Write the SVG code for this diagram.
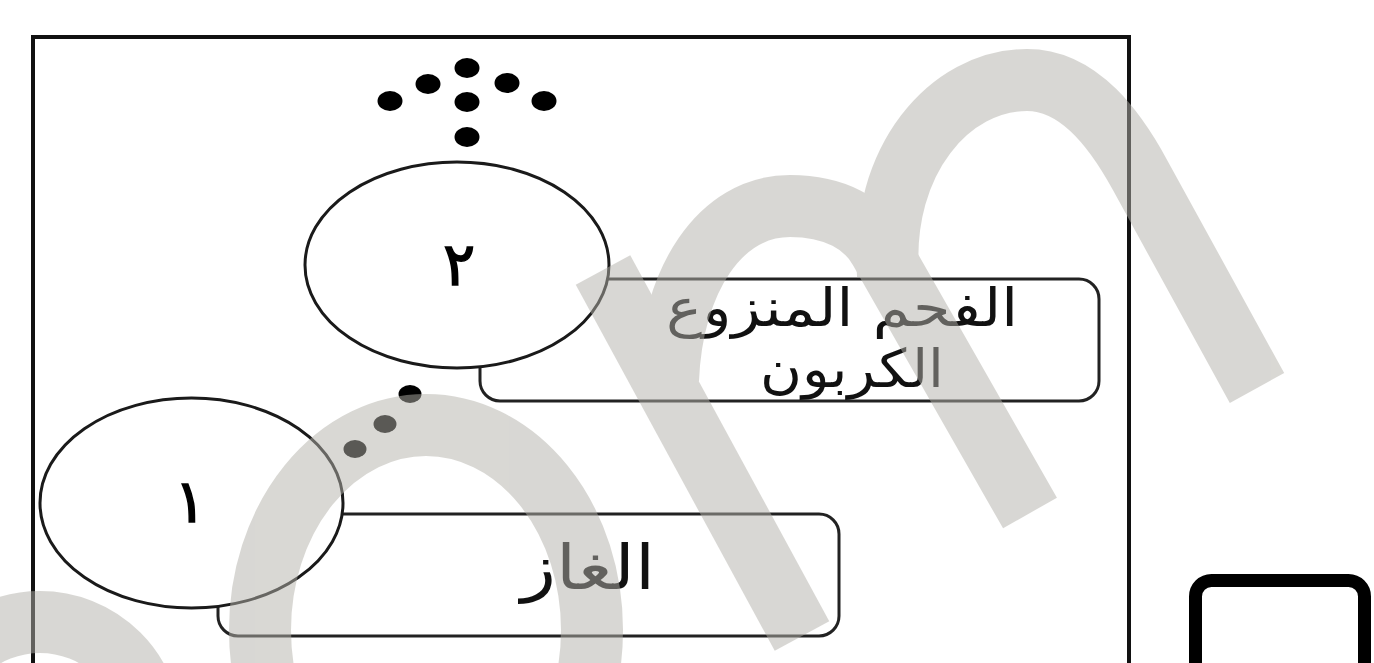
<svg xmlns="http://www.w3.org/2000/svg" width="1374" height="663" viewBox="0 0 1374 663">
<style>
  .frame{fill:none;stroke:#111;stroke-width:4}
  .box{fill:#fff;stroke:#222;stroke-width:3}
  .oval{fill:#fff;stroke:#1a1a1a;stroke-width:3}
  .dot{fill:#000}
  .num{font-family:"DejaVu Sans",sans-serif;fill:#000;stroke:#000;stroke-width:1.5;text-anchor:middle}
  .lbl{font-family:"DejaVu Sans",sans-serif;fill:#111;text-anchor:middle}
  .wm{fill:none;stroke:#b3b1aa;stroke-width:62}
</style>
<rect width="1374" height="663" fill="#fff"/>
<g id="frame"><rect class="frame" x="33" y="37" width="1096" height="660"/></g>
<g id="node-box2"><rect class="box" x="480" y="279" width="619" height="122" rx="20"/>
  <text class="lbl" x="842" y="326" font-size="53" direction="rtl" textLength="352" lengthAdjust="spacingAndGlyphs">الفحم المنزوع</text>
  <text class="lbl" x="852" y="387" font-size="53" direction="rtl" textLength="184" lengthAdjust="spacingAndGlyphs">الكربون</text></g>
<g id="node-2"><ellipse class="oval" cx="457" cy="265" rx="152" ry="103"/>
  <text class="num" x="459" y="285" font-size="60">٢</text></g>
<g id="node-box1"><rect class="box" x="218" y="514" width="621" height="122" rx="20"/>
  <text class="lbl" x="588" y="589" font-size="62" direction="rtl" textLength="134" lengthAdjust="spacingAndGlyphs">الغاز</text></g>
<g id="node-1"><ellipse class="oval" cx="191.5" cy="503" rx="151.5" ry="105"/>
  <text class="num" x="190" y="522" font-size="60">١</text></g>
<g id="dots-top">
  <ellipse class="dot" cx="390" cy="101" rx="12.5" ry="10"/>
  <ellipse class="dot" cx="428" cy="84" rx="12.5" ry="10"/>
  <ellipse class="dot" cx="467" cy="68" rx="12.5" ry="10"/>
  <ellipse class="dot" cx="507" cy="83" rx="12.5" ry="10"/>
  <ellipse class="dot" cx="544" cy="101" rx="12.5" ry="10"/>
  <ellipse class="dot" cx="467" cy="102" rx="12.5" ry="10"/>
  <ellipse class="dot" cx="467" cy="137" rx="12.5" ry="10"/>
</g>
<g id="connectors">
  <ellipse class="dot" cx="410" cy="394" rx="11.5" ry="9"/>
  <ellipse class="dot" cx="385" cy="424" rx="11.5" ry="9"/>
  <ellipse class="dot" cx="355" cy="449" rx="11.5" ry="9"/>
</g>
<g id="watermark" opacity="0.5">
  <circle class="wm" cx="40" cy="733" r="111"/>
  <ellipse class="wm" cx="426" cy="630" rx="166" ry="205"/>
  <path class="wm" d="M603,270 L802,636"/>
  <path class="wm" d="M668,380 C672,280 720,206 790,206 C835,206 866,224 880,250 L1030,513"/>
  <path class="wm" d="M888,275 C880,160 950,80 1027,80 C1080,80 1116,131 1140,175 L1257,388"/>
</g>
<g id="node-square"><rect x="1195.5" y="580.5" width="169" height="120" rx="16" fill="none" stroke="#000" stroke-width="13"/></g>
</svg>
